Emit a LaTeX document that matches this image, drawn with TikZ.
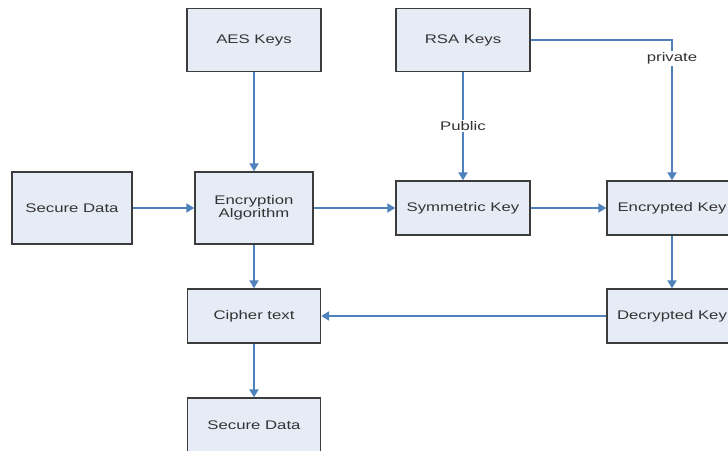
\documentclass[tikz,border=0pt]{standalone}
\usepackage{fontspec}
\setmainfont{Liberation Sans}[FakeStretch=1.34]
\usetikzlibrary{arrows.meta}
\definecolor{boxfill}{HTML}{E6ECF6}
\definecolor{boxline}{HTML}{3C3C3C}
\definecolor{arrowblue}{HTML}{4F81BD}
\tikzset{
  blk/.style={draw=boxline, fill=boxfill, line width=1.4pt, inner sep=0pt,
    font=\fontsize{12.5}{13}\selectfont, text=black!80, align=center},
  conn/.style={draw=arrowblue, line width=2pt, -{Triangle[length=8pt,width=9pt]}},
  lbl/.style={fill=white, inner sep=1.5pt, font=\fontsize{12.5}{13}\selectfont, text=black!80}
}
\begin{document}
\begin{tikzpicture}[x=1pt,y=-1pt]
\useasboundingbox (0,0) rectangle (728,450);
\begin{scope}
\clip (0,0) rectangle (728,450);
\fill[white] (0,0) rectangle (728,450);
\node[blk, minimum width=134pt, minimum height=63pt] (aes) at (254,40) {AES Keys};
\node[blk, minimum width=134pt, minimum height=63pt] (rsa) at (463,40) {RSA Keys};
\node[blk, minimum width=120pt, minimum height=72pt] (sd1) at (72,208) {Secure Data};
\node[blk, minimum width=118pt, minimum height=72pt] (enc) at (254,208) {Encryption\\Algorithm};
\node[blk, minimum width=134pt, minimum height=54pt] (sym) at (463,208) {Symmetric Key};
\node[blk, minimum width=130pt, minimum height=54pt] (ek) at (672,208) {Encrypted Key};
\node[blk, minimum width=133pt, minimum height=54pt] (ct) at (254,316) {Cipher text};
\node[blk, minimum width=130pt, minimum height=54pt] (dk) at (672,316) {Decrypted Key};
\node[blk, minimum width=133pt, minimum height=54pt] (sd2) at (254,425) {Secure Data};

\draw[conn] (aes.south) -- (enc.north);
\draw[conn] (sd1.east) -- (enc.west);
\draw[conn] (enc.east) -- (sym.west);
\draw[conn] (rsa.south) -- node[lbl] {Public} (sym.north);
\draw[conn] (rsa.east) -- (ek.north |- rsa.east) -- node[lbl, pos=0.13] {private} (ek.north);
\draw[conn] (sym.east) -- (ek.west);
\draw[conn] (ek.south) -- (dk.north);
\draw[conn] (dk.west) -- (ct.east);
\draw[conn] (enc.south) -- (ct.north);
\draw[conn] (ct.south) -- (sd2.north);
\end{scope}
\end{tikzpicture}
\end{document}
